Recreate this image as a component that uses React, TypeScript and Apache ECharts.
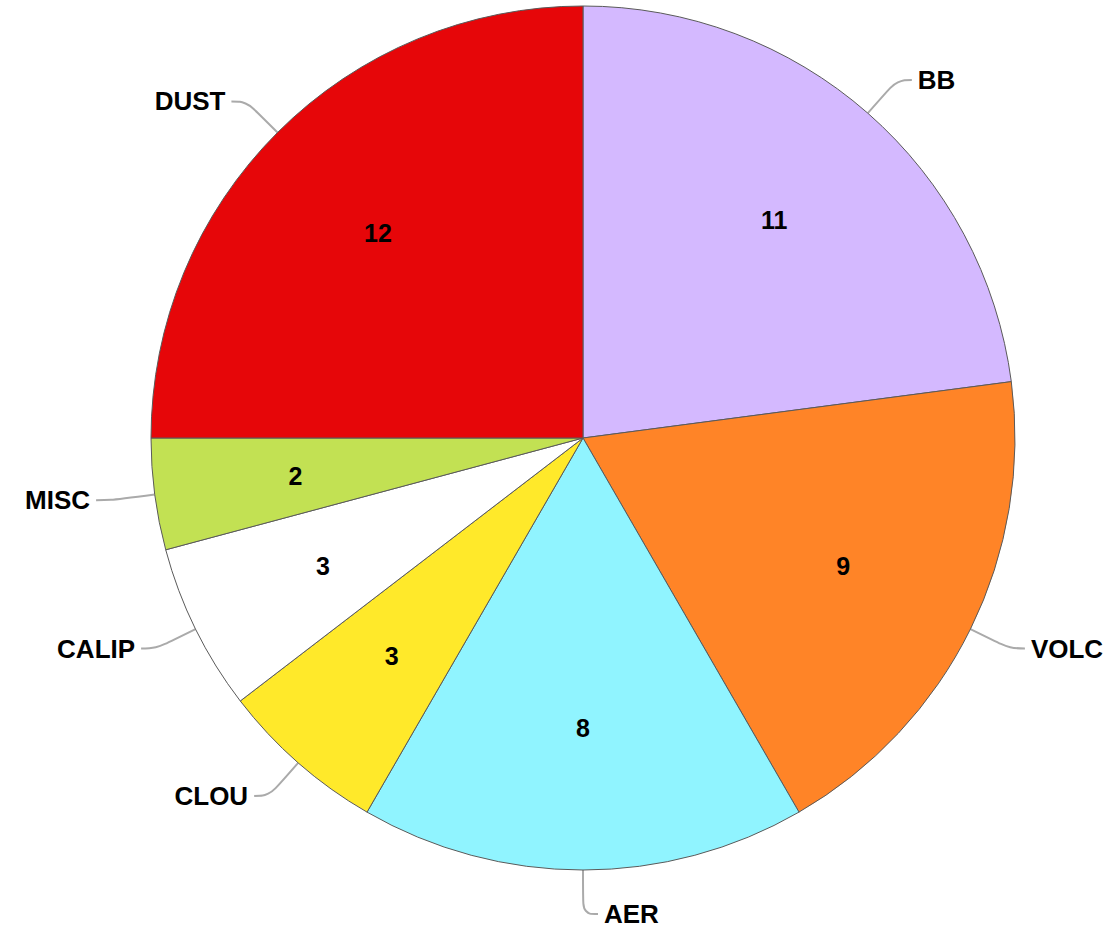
import React, { useEffect, useRef } from "react";
import * as echarts from "echarts";

const categories = ["BB", "VOLC", "AER", "CLOU", "CALIP", "MISC", "DUST"];
const values = [11, 9, 8, 3, 3, 2, 12];
const colors = ["#D4B9FF", "#FF8427", "#90F4FF", "#FFE92A", "#FFFFFF", "#C2E153", "#E60609"];

const FONT = "'Liberation Sans', Arial, sans-serif";

export default function App() {
  const ref = useRef<HTMLDivElement>(null);
  useEffect(() => {
    if (!ref.current) return;
    const chart = echarts.init(ref.current, undefined, { renderer: "svg" });
    const center = [583, 438];
    const R = 432;
    const plain = categories.map((c, i) => ({ name: c, value: values[i] }));
    chart.setOption({
      animation: false,
      backgroundColor: "#ffffff",
      series: [
        {
          type: "pie",
          center,
          radius: [0, R],
          startAngle: 90,
          silent: true,
          label: { show: false },
          labelLine: { show: false },
          emphasis: { disabled: true },
          itemStyle: { borderColor: "#5a5a5a", borderWidth: 1 },
          data: categories.map((c, i) => ({
            name: c,
            value: values[i],
            itemStyle: { color: colors[i] },
          })),
        },
        {
          type: "pie",
          center,
          radius: [142, R],
          startAngle: 90,
          silent: true,
          emphasis: { disabled: true },
          itemStyle: { color: "rgba(0,0,0,0)", borderWidth: 0 },
          label: {
            show: true,
            position: "inside",
            formatter: "{c}",
            color: "#000",
            fontFamily: FONT,
            fontWeight: "bold",
            fontSize: 25,
          },
          labelLine: { show: false },
          data: plain,
        },
        {
          type: "pie",
          center,
          radius: [0, R],
          startAngle: 90,
          silent: true,
          emphasis: { disabled: true },
          itemStyle: { color: "rgba(0,0,0,0)", borderWidth: 0 },
          label: {
            show: true,
            position: "outside",
            formatter: "{b}",
            color: "#000",
            fontFamily: FONT,
            fontWeight: "bold",
            fontSize: 26,
            distanceToLabelLine: 6,
          },
          labelLine: {
            show: true,
            length: 44,
            length2: 15,
            smooth: 0.4,
            lineStyle: { color: "#aaaaaa", width: 2 },
          },
          labelLayout: (params: any) => {
            if (params.dataIndex !== 2 || !params.labelLinePoints) return {};
            const pts = params.labelLinePoints;
            const p1 = pts[1];
            const p2 = pts[2];
            const nx = p1[0] + Math.abs(p1[0] - p2[0]);
            return {
              x: nx + 6,
              y: p2[1],
              align: "left",
              verticalAlign: "middle",
              labelLinePoints: [pts[0], p1, [nx, p2[1]]],
            };
          },
          data: plain,
        },
      ],
    });
    return () => chart.dispose();
  }, []);
  return (
    <div
      ref={ref}
      style={{ position: "fixed", left: 0, top: 0, width: 1115, height: 932 }}
    />
  );
}
